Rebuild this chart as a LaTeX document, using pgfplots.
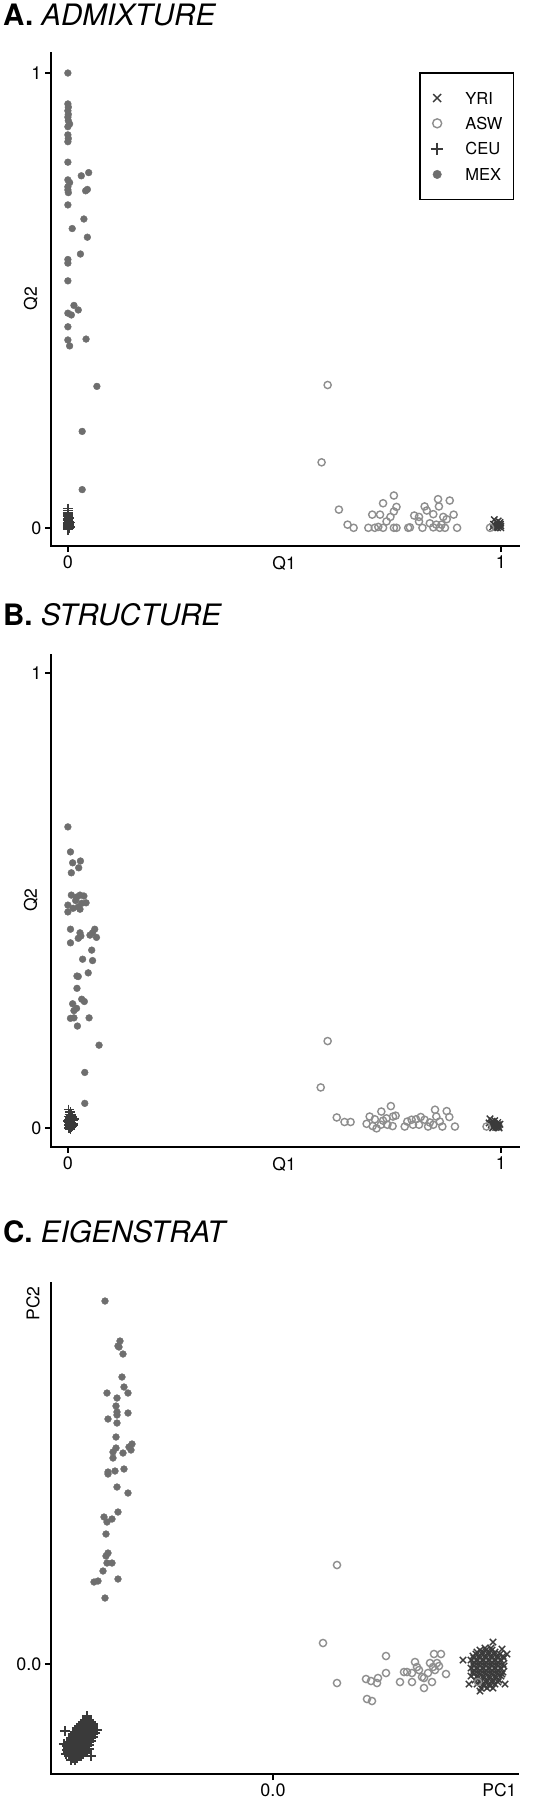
\documentclass[border=0pt]{standalone}
\usepackage{fontspec}
\setmainfont{TeX Gyre Heros}
\usepackage{pgfplots}
\pgfplotsset{compat=1.18}

\definecolor{darkpt}{HTML}{3A3A3A}
\definecolor{mexpt}{HTML}{6E6E6E}
\definecolor{aswpt}{HTML}{8E8E8E}

\pgfplotsset{
  panel/.style={
    scale only axis, clip=false,
    axis x line*=bottom, axis y line*=left,
    axis line style={-, line width=2.3pt, line cap=rect},
    tick align=outside, major tick length=6pt,
    tick style={line width=1.6pt, black},
    tick label style={font=\fontsize{18}{20}\selectfont},
    every axis x label/.style={at={(axis description cs:0.498,0)}, anchor=center,
      yshift=-17pt, font=\fontsize{17.5}{20}\selectfont},
    every axis y label/.style={at={(axis description cs:-0.043,0.502)}, anchor=center,
      rotate=90, font=\fontsize{17.5}{20}\selectfont},
  },
  yri/.style={only marks, mark=x, mark size=4.5pt, color=darkpt, mark options={solid, line width=1.4pt}},
  asw/.style={only marks, mark=o, mark size=3.6pt, color=aswpt, mark options={solid, line width=1.4pt, fill=none}},
  ceu/.style={only marks, mark=+, mark size=5pt, color=darkpt, mark options={solid, line width=1.4pt}},
  mex/.style={only marks, mark=*, mark size=3.4pt, color=mexpt, mark options={solid, line width=0.4pt, draw=mexpt, fill=mexpt}},
}

\begin{document}
\begin{tikzpicture}
\useasboundingbox (0pt,0pt) rectangle (549pt,-1800pt);

% ---------------- A. ADMIXTURE ----------------
\node[anchor=base west, inner sep=0pt, font=\fontsize{29.5}{32}\selectfont] at (3pt,-25pt)
  {\textbf{A.} \textit{ADMIXTURE}};
\begin{axis}[panel,
    at={(51pt,-546pt)}, anchor=south west,
    width=468pt, height=493pt,
    xmin=-0.039, xmax=1.042, ymin=-0.04, ymax=1.044,
    xtick={0,1}, xticklabels={0,1},
    ytick={0,1}, yticklabels={0,1},
    xlabel={Q1}, ylabel={Q2},
    legend style={at={(axis description cs:0.99,0.961)}, anchor=north east,
      draw=black, line width=1.6pt, inner xsep=11pt, inner ysep=19pt,
      font=\fontsize{16.5}{18}\selectfont, row sep=13.3pt,
      nodes={inner sep=0pt, text height=12pt, text depth=0pt},
      /tikz/every odd column/.append style={column sep=22pt}},
    legend cell align=left,
    legend image code/.code={\draw[#1,/tikz/every mark/.append style={scale=1.25}] plot coordinates {(0pt,0pt)};},
  ]
\addplot[yri] coordinates {
(0.985,0.018)(0.990,0.012)(0.995,0.008)(1.000,0.004)(0.988,0.004)(0.993,0.000)
(0.998,0.012)(0.983,0.008)(0.990,0.002)(1.000,0.000)(0.996,0.003)(0.986,0.000)
(0.992,0.006)(0.999,0.008)(0.994,0.015)(0.981,0.002)
};
\addlegendentry{YRI}
\addplot[asw] coordinates {
(0.600,0.314)(0.586,0.144)(0.626,0.040)(0.646,0.007)(0.660,0.000)
(0.694,0.000)(0.709,0.000)(0.717,0.002)(0.728,0.000)(0.753,0.000)(0.759,0.000)
(0.786,0.000)(0.790,0.001)(0.819,0.000)(0.844,0.001)(0.859,0.000)(0.871,0.000)(0.899,0.000)
(0.703,0.029)(0.721,0.029)(0.736,0.014)(0.745,0.024)(0.753,0.036)(0.759,0.046)
(0.728,0.054)(0.753,0.071)
(0.800,0.027)(0.811,0.024)(0.811,0.014)(0.824,0.047)(0.829,0.038)(0.844,0.030)
(0.836,0.010)(0.855,0.063)(0.857,0.047)(0.867,0.024)(0.875,0.019)(0.882,0.060)
(0.891,0.029)(0.851,0.007)(0.863,0.007)
(0.975,0.000)
};
\addlegendentry{ASW}
\addplot[ceu] coordinates {
(0.000,0.000)(0.001,0.002)(0.000,0.004)(0.002,0.006)(0.000,0.008)(0.001,0.010)
(0.000,0.012)(0.002,0.014)(0.000,0.016)(0.001,0.018)(0.000,0.020)(0.002,0.022)
(0.000,0.025)(0.001,0.028)(0.000,0.030)(0.000,0.034)(0.001,0.038)(0.000,0.042)
(0.003,0.000)(0.001,-0.002)(0.002,0.001)(0.000,0.003)(0.004,0.002)(0.003,0.005)
(0.000,-0.004)(0.001,0.000)(0.002,0.009)(0.004,0.012)
};
\addlegendentry{CEU}
\addplot[mex] coordinates {
(0.000,1.000)
(0.000,0.932)(0.001,0.925)(0.000,0.917)(0.001,0.909)(0.000,0.903)(0.001,0.895)
(0.004,0.888)(0.000,0.882)(0.000,0.864)(0.001,0.856)(0.000,0.849)
(0.000,0.804)
(0.048,0.781)(0.031,0.774)
(0.000,0.765)(0.004,0.759)(0.000,0.750)(0.000,0.743)(0.001,0.737)
(0.041,0.741)(0.045,0.744)
(0.000,0.710)
(0.037,0.679)(0.010,0.658)(0.045,0.639)(0.029,0.602)
(0.000,0.590)(0.000,0.582)(0.000,0.543)
(0.014,0.489)(0.000,0.472)(0.008,0.468)(0.024,0.479)
(0.000,0.442)(0.000,0.413)(0.004,0.400)(0.042,0.415)
(0.067,0.311)(0.033,0.212)(0.033,0.084)
};
\addlegendentry{MEX}
\end{axis}

% ---------------- B. STRUCTURE ----------------
\node[anchor=base west, inner sep=0pt, font=\fontsize{29.5}{32}\selectfont] at (3pt,-625pt)
  {\textbf{B.} \textit{STRUCTURE}};
\begin{axis}[panel,
    at={(51pt,-1147pt)}, anchor=south west,
    width=468pt, height=492pt,
    xmin=-0.039, xmax=1.042, ymin=-0.042, ymax=1.040,
    xtick={0,1}, xticklabels={0,1},
    ytick={0,1}, yticklabels={0,1},
    xlabel={Q1}, ylabel={Q2},
  ]
\addplot[yri] coordinates {
(0.975,0.020)(0.980,0.015)(0.985,0.010)(0.990,0.006)(0.995,0.003)(0.978,0.006)
(0.983,0.003)(0.988,0.001)(0.993,0.012)(0.998,0.008)(0.986,0.016)(0.973,0.011)
(0.996,0.000)(0.981,0.000)(0.991,0.002)(0.979,0.010)(0.987,0.006)(0.994,0.007)
};
\addplot[asw] coordinates {
(0.600,0.191)(0.584,0.089)(0.621,0.023)(0.639,0.013)(0.653,0.013)
(0.690,0.009)(0.697,0.025)(0.704,0.004)(0.713,-0.001)(0.724,0.036)(0.728,0.016)
(0.738,0.007)(0.746,0.048)(0.751,0.025)(0.757,0.027)(0.750,0.004)(0.723,0.007)
(0.736,0.021)(0.709,0.019)
(0.778,0.003)(0.784,0.014)(0.794,0.018)(0.804,0.019)(0.811,0.007)(0.815,0.024)
(0.824,0.018)(0.836,0.012)(0.848,0.040)(0.851,0.025)(0.859,0.014)(0.865,0.003)
(0.875,0.037)(0.881,0.024)(0.894,0.003)(0.844,0.007)(0.797,0.007)(0.832,0.003)
(0.967,0.003)
};
\addplot[ceu] coordinates {
(0.002,0.040)(0.006,0.035)(0.004,0.030)(0.008,0.028)(0.002,0.025)(0.010,0.024)
(0.006,0.022)(0.003,0.019)(0.009,0.018)(0.012,0.016)(0.005,0.015)(0.002,0.012)
(0.008,0.012)(0.011,0.010)(0.004,0.009)(0.007,0.007)(0.002,0.005)(0.010,0.004)
(0.005,0.003)(0.008,0.001)(0.003,0.000)(0.006,-0.002)(0.012,0.006)(0.014,0.020)
(0.001,0.015)(0.006,0.011)(0.004,0.001)(0.009,0.008)(0.003,0.006)(0.007,0.017)
};
\addplot[mex] coordinates {
(0.000,0.662)(0.006,0.607)(0.011,0.583)(0.029,0.587)(0.025,0.572)(0.008,0.561)
(0.008,0.512)(0.021,0.508)(0.028,0.512)(0.037,0.510)(0.000,0.490)(0.012,0.483)
(0.024,0.486)(0.032,0.494)(0.042,0.495)(0.000,0.475)(0.028,0.481)(0.018,0.500)
(0.006,0.437)(0.028,0.429)(0.024,0.417)(0.006,0.407)(0.057,0.429)(0.062,0.437)
(0.066,0.419)(0.051,0.424)(0.030,0.422)
(0.055,0.391)(0.034,0.371)(0.057,0.368)(0.047,0.341)(0.021,0.334)(0.024,0.333)
(0.021,0.307)
(0.011,0.273)(0.020,0.263)(0.014,0.258)(0.032,0.283)(0.038,0.278)(0.006,0.241)
(0.014,0.242)(0.049,0.242)(0.022,0.224)
(0.072,0.182)(0.039,0.122)(0.039,0.054)
};
\end{axis}

% ---------------- C. EIGENSTRAT ----------------
\node[anchor=base west, inner sep=0pt, font=\fontsize{29.5}{32}\selectfont] at (3pt,-1242pt)
  {\textbf{C.} \textit{EIGENSTRAT}};
\begin{axis}[panel,
    at={(51pt,-1774pt)}, anchor=south west,
    width=467pt, height=491pt,
    xmin=-222, xmax=245, ymin=-110, ymax=381,
    xtick={0}, xticklabels={0.0},
    ytick={0}, yticklabels={0.0},
    xlabel={PC1}, ylabel={PC2},
    every axis x label/.style={at={(axis description cs:1,0)}, anchor=east,
      xshift=2pt, yshift=-16pt, font=\fontsize{17.5}{20}\selectfont},
    every axis y label/.style={at={(axis description cs:-0.0385,1)}, anchor=east,
      rotate=90, font=\fontsize{17.5}{20}\selectfont},
  ]
\addplot[yri] coordinates {
(212,16)(218,16)
(204,12)(210,12)(216,12)(222,12)
(200,8)(206,8)(212,8)(218,8)(224,8)(230,8)
(198,4)(204,4)(210,4)(216,4)(222,4)(228,4)
(200,0)(206,0)(212,0)(218,0)(224,0)(230,0)
(198,-4)(204,-4)(210,-4)(216,-4)(222,-4)(228,-4)
(200,-8)(206,-8)(212,-8)(218,-8)(224,-8)(230,-8)
(198,-12)(204,-12)(210,-12)(216,-12)(222,-12)(228,-12)
(202,-16)(208,-16)(214,-16)(220,-16)(226,-16)
(204,-20)(210,-20)(216,-20)(222,-20)
(208,-24)(214,-24)(220,-24)
(207,14)(213,14)(219,14)
(203,10)(209,10)(215,10)(221,10)(227,10)
(201,6)(207,6)(213,6)(219,6)(225,6)(231,6)
(201,2)(207,2)(213,2)(219,2)(225,2)
(201,-2)(207,-2)(213,-2)(219,-2)(225,-2)(231,-2)
(201,-6)(207,-6)(213,-6)(219,-6)(225,-6)
(201,-10)(207,-10)(213,-10)(219,-10)(225,-10)(229,-10)
(205,-14)(211,-14)(217,-14)(223,-14)
(207,-18)(213,-18)(219,-18)(225,-18)
(211,-22)(217,-22)
(190,4)(234,10)(196,-20)(232,-20)(220,22)(207,-27)(229,15)
};
\addplot[asw] coordinates {
(64,99)(50,21)(64,-19)(93,-15)(98,-17)(104,-19)(105,-14)(94,-35)(99,-37)
(113,8)(113,-9)(127,-18)(131,-8)(134,-8)(139,-9)(139,-18)(142,2)(144,-3)
(146,-6)(149,-13)(151,-24)(155,-9)(157,1)(159,-18)(160,-3)(162,-6)(164,1)
(166,-2)(161,10)(168,10)(173,-10)(151,-14)(205,-18)
};
\addplot[ceu] coordinates {
(-188,-56)(-184,-57)
(-192,-60)(-188,-60)(-184,-61)(-180,-60)
(-196,-64)(-192,-64)(-188,-65)(-184,-64)(-180,-64)
(-198,-68)(-194,-68)(-190,-69)(-186,-68)(-182,-68)(-178,-69)
(-200,-72)(-196,-72)(-192,-73)(-188,-72)(-184,-72)(-180,-73)
(-202,-76)(-198,-76)(-194,-77)(-190,-76)(-186,-76)(-182,-77)
(-204,-80)(-200,-80)(-196,-81)(-192,-80)(-188,-80)(-184,-81)
(-204,-84)(-200,-84)(-196,-85)(-192,-84)(-188,-84)(-184,-85)
(-205,-88)(-201,-88)(-197,-89)(-193,-88)(-189,-88)
(-204,-92)(-200,-92)(-196,-93)(-192,-92)
(-202,-96)(-198,-96)
(-190,-58)(-186,-58)(-182,-58)
(-194,-62)(-190,-62)(-186,-62)(-182,-62)
(-196,-66)(-192,-66)(-188,-66)(-184,-66)(-180,-66)
(-200,-70)(-196,-70)(-192,-70)(-188,-70)(-184,-70)(-180,-70)
(-202,-74)(-198,-74)(-194,-74)(-190,-74)(-186,-74)(-182,-74)
(-204,-78)(-200,-78)(-196,-78)(-192,-78)(-188,-78)(-184,-78)
(-206,-82)(-202,-82)(-198,-82)(-194,-82)(-190,-82)(-186,-82)
(-206,-86)(-202,-86)(-198,-86)(-194,-86)(-190,-86)(-186,-86)
(-202,-90)(-198,-90)(-194,-90)(-190,-90)
(-200,-94)(-196,-94)
(-208,-67)(-176,-66)(-207,-90)(-182,-92)(-186,-52)(-209,-80)
};
\addplot[mex] coordinates {
(-168,363)(-153,323)(-155,318)(-154,317)(-150,310)(-151,287)(-149,277)(-145,271)
(-166,271)(-156,266)(-157,258)(-156,252)(-156,249)(-145,251)(-165,245)(-156,241)
(-157,227)(-157,216)(-160,212)(-160,206)(-150,211)(-144,217)(-141,220)(-142,214)
(-165,192)(-158,193)(-149,195)(-165,190)(-156,177)(-145,171)(-155,152)(-169,147)
(-166,142)(-161,145)(-167,130)(-165,111)(-167,108)(-166,101)(-161,101)(-170,93)
(-179,82)(-175,83)(-155,85)(-168,66)
};
\end{axis}
\end{tikzpicture}
\end{document}
